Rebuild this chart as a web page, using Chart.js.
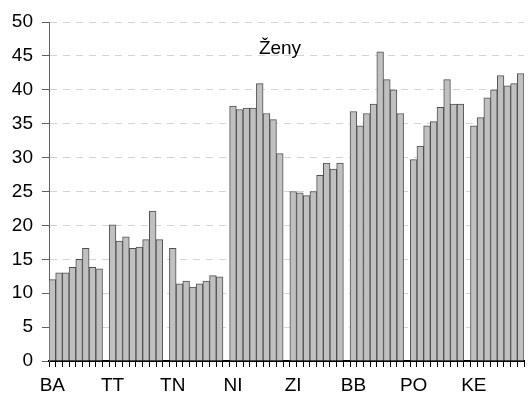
<!DOCTYPE html>
<html>
<head>
<meta charset="utf-8">
<script src="https://cdn.jsdelivr.net/npm/chart.js@4/dist/chart.umd.min.js"></script>
<style>
html,body{margin:0;padding:0;background:#fff;}
#wrap{width:530px;height:400px;position:relative;}
</style>
</head>
<body>
<div id="wrap"><canvas id="c"></canvas></div>
<script>
const groups = ['BA','TT','TN','NI','ZI','BB','PO','KE'];
const BA = [12.0, 13.0, 13.0, 13.8, 15.0, 16.6, 13.8, 13.6];
const TT = [20.1, 17.7, 18.3, 16.6, 16.8, 17.9, 22.1, 17.9];
const TN = [16.6, 11.4, 11.8, 10.9, 11.4, 11.8, 12.6, 12.4];
const NI = [37.6, 37.1, 37.3, 37.3, 40.9, 36.5, 35.6, 30.6];
const ZI = [25.0, 24.8, 24.4, 25.0, 27.4, 29.2, 28.3, 29.2];
const BB = [36.8, 34.7, 36.5, 37.9, 45.6, 41.5, 40.0, 36.5];
const PO = [29.7, 31.7, 34.7, 35.3, 37.4, 41.5, 37.9, 37.9];
const KE = [34.7, 35.9, 38.8, 40.0, 42.1, 40.6, 40.9, 42.4];
const groupValues = [BA, TT, TN, NI, ZI, BB, PO, KE];
const yTicks = [0, 5, 10, 15, 20, 25, 30, 35, 40, 45, 50];
const title = 'Ženy';

// build slot table: each group's bars followed by one empty slot
const labels = [];
const values = [];
groups.forEach((g, gi) => {
  groupValues[gi].forEach((v, i) => {
    labels.push(i === 0 ? g : '');
    values.push(v);
  });
  if (gi < groups.length - 1) { labels.push(''); values.push(null); }
});

const FONT = '"Liberation Sans", Arial, sans-serif';

const titlePlugin = {
  id: 'innerTitle',
  afterDatasetsDraw(chart) {
    const ctx = chart.ctx;
    ctx.save();
    ctx.font = '19px ' + FONT;
    ctx.fillStyle = '#000';
    ctx.textAlign = 'center';
    ctx.textBaseline = 'alphabetic';
    ctx.fillText(title, 280, 54);
    ctx.restore();
  }
};

new Chart(document.getElementById('c'), {
  type: 'bar',
  data: {
    labels: labels,
    datasets: [{
      data: values,
      backgroundColor: '#c0c0c0',
      borderColor: '#505050',
      borderWidth: 1,
      barPercentage: 1,
      categoryPercentage: 1
    }]
  },
  options: {
    responsive: true,
    maintainAspectRatio: false,
    animation: false,
    layout: { padding: { top: 22, right: 6, left: 0, bottom: 0 } },
    plugins: { legend: { display: false }, tooltip: { enabled: false }, title: { display: false } },
    scales: {
      x: {
        offset: true,
        afterFit(s) { s.height = 39; },
        grid: {
          display: true,
          offset: true,
          drawOnChartArea: false,
          drawTicks: true,
          tickLength: 6,
          tickColor: '#000',
          tickWidth: 1
        },
        border: { display: true, color: '#000', width: 2 },
        ticks: {
          autoSkip: false,
          maxRotation: 0,
          minRotation: 0,
          padding: 7,
          color: '#000',
          font: { family: FONT, size: 19 }
        }
      },
      y: {
        min: 0,
        max: 50,
        afterFit(s) { s.width = 49; },
        afterBuildTicks(s) { s.ticks = yTicks.map(v => ({ value: v })); },
        grid: {
          color: (c) => (c.tick && c.tick.value === 0) ? 'rgba(0,0,0,0)' : '#d4d4d4',
          lineWidth: 1,
          drawTicks: true,
          tickLength: 7,
          tickColor: '#606060'
        },
        border: { display: true, color: '#606060', width: 1, dash: [7, 6] },
        ticks: {
          padding: 9,
          color: '#000',
          font: { family: FONT, size: 19 }
        }
      }
    }
  },
  plugins: [titlePlugin]
});
</script>
</body>
</html>
